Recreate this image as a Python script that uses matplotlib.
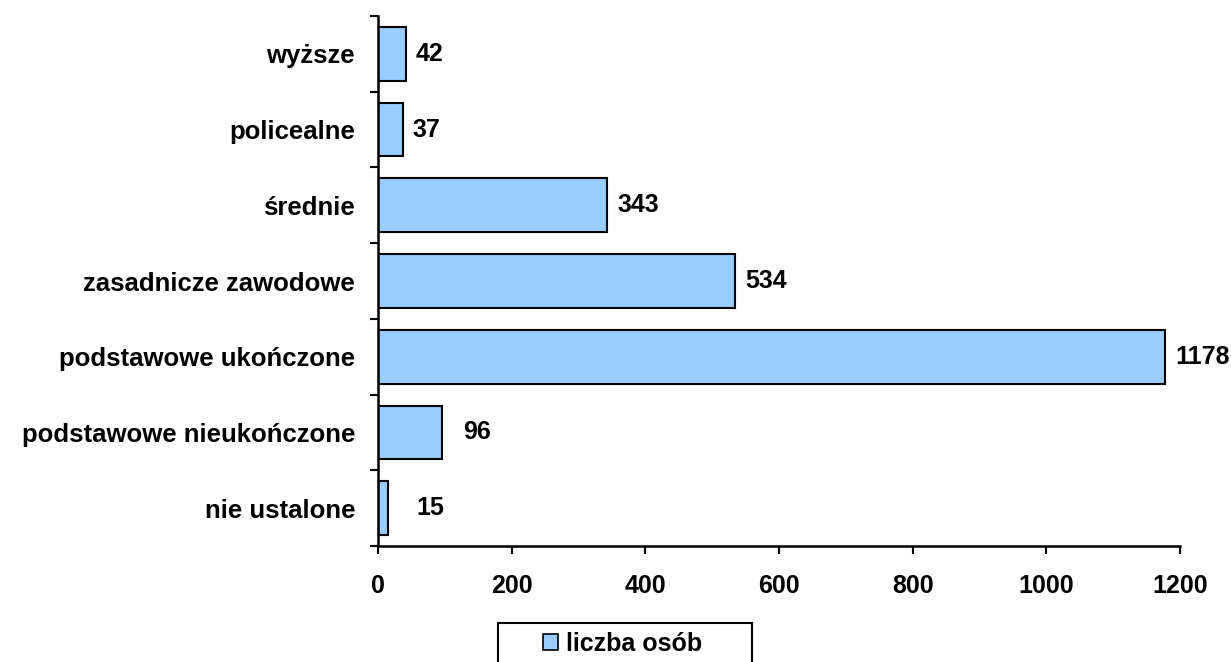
import numpy as np
import matplotlib
matplotlib.use("Agg")
import matplotlib.pyplot as plt
from matplotlib.patches import Patch, Rectangle

categories = ["nie ustalone", "podstawowe nieukończone", "podstawowe ukończone",
              "zasadnicze zawodowe", "średnie", "policealne", "wyższe"]
values = [15, 96, 1178, 534, 343, 37, 42]
x_ticks = [0, 200, 400, 600, 800, 1000, 1200]
legend_label = "liczba osób"

# odstęp etykiety od końca słupka (px), jak w oryginale
label_pad = [28, 21, 10, 10, 10, 10, 10]

plt.rcParams["font.family"] = ["Liberation Sans", "DejaVu Sans"]
plt.rcParams["font.weight"] = "bold"

W, H = 1231, 662
fig = plt.figure(figsize=(W / 100, H / 100), dpi=100)
ax = fig.add_axes([378 / W, 1 - 546 / H, (1180 - 378) / W, (546 - 16) / H])

y = np.arange(len(categories))
ax.barh(y, values, height=0.71, color="#99CCFF", edgecolor="black", linewidth=1.5)

for yi, v, pad in zip(y, values, label_pad):
    ax.annotate(str(v), (v, yi), xytext=(pad * 0.72, 0), textcoords="offset points",
                ha="left", va="center", fontsize=18, fontweight="bold")

ax.set_xlim(0, 1200)
ax.set_ylim(-0.5, len(categories) - 0.5)
ax.set_xticks(x_ticks)
ax.set_xticklabels([str(t) for t in x_ticks], fontsize=18, fontweight="bold")
ax.set_yticks(np.arange(-0.5, len(categories), 1.0))
ax.set_yticklabels([])
ax.set_yticks(y, minor=True)
ax.set_yticklabels(categories, minor=True, fontsize=18.5, fontweight="bold")
ax.tick_params(axis="y", which="minor", length=0, pad=16.5)
ax.tick_params(axis="both", which="major", direction="out", length=6, width=1.5)
ax.tick_params(axis="x", pad=14)

for s in ["top", "right"]:
    ax.spines[s].set_visible(False)
for s in ["left", "bottom"]:
    ax.spines[s].set_linewidth(1.8)

# ramka legendy (ucięta dolną krawędzią rysunku)
fig.patches.append(Rectangle((498 / W, -0.05), (752 - 498) / W, 1 - 623 / H + 0.05,
                             transform=fig.transFigure, fill=False,
                             edgecolor="black", linewidth=1.5))
handle = Patch(facecolor="#99CCFF", edgecolor="black", linewidth=1.2)
fig.legend([handle], [legend_label], loc="upper left",
           bbox_to_anchor=(543 / W, 1 - 632 / H), frameon=False,
           prop={"size": 18, "weight": "bold"}, handlelength=0.6, handleheight=0.6,
           handletextpad=0.32, borderpad=0, borderaxespad=0)

fig.savefig("out.png", dpi=100)
